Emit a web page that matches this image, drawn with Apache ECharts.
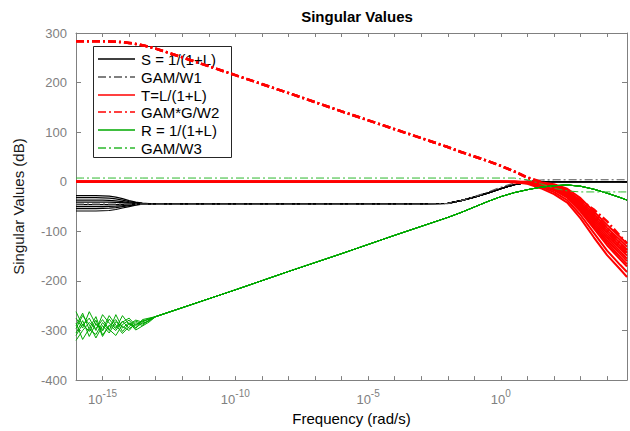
<!DOCTYPE html>
<html>
<head>
<meta charset="utf-8">
<title>Singular Values</title>
<script src="https://cdn.jsdelivr.net/npm/echarts@6/dist/echarts.min.js"></script>
<style>
  html, body { margin: 0; padding: 0; background: #fff; }
  #main { width: 630px; height: 431px; }
</style>
</head>
<body>
<div id="main"></div>
<script>
// frequency grid, as log10(rad/s)
const freqExp = [-16, -15.75, -15.5, -15.25, -15, -14.75, -14.5, -14.25, -14, -13.75, -13.5, -13.25,
  -13, -12, -10, -8, -6, -4, -3, -2, -1.5, -1, -0.5, 0, 0.5, 1, 1.5, 2, 2.5, 3, 3.5, 4, 4.5, 4.75];

const legendNames = ['S = 1/(1+L)', 'GAM/W1', 'T=L/(1+L)', 'GAM*G/W2', 'R = 1/(1+L)', 'GAM/W3'];

// S = 1/(1+L): low freq spread (-16 .. -13.25), then common curve (-13 .. 4.75)
const sLow = [
  [-28, -28, -28, -28, -28.5, -29, -31, -34, -38, -41, -43, -44],
  [-32, -32, -32, -32, -32.5, -33, -34.5, -37, -40, -42, -43.5, -44],
  [-37, -37, -37, -37, -37, -37.5, -38.5, -40, -42, -43, -44, -44],
  [-41, -41, -41, -41, -41, -41, -41.5, -42, -43, -43.5, -44, -44],
  [-46, -46, -46, -46, -46, -46, -46, -45.5, -45, -44.5, -44, -44],
  [-50, -50, -50, -50, -50, -49.5, -49, -48, -46.5, -45.5, -44.5, -44],
  [-54, -54, -54, -54, -53.5, -53, -52, -50, -48, -46, -45, -44],
  [-59, -59, -59, -59, -58.5, -58, -56, -53, -50, -47, -45, -44]
];
const sTail = [-44, -44, -44, -44, -44, -44, -44, -43.5, -38, -31, -23, -14, -6, -1.5, 0, 0, 0, 0, 0, 0, 0, 0];

// GAM/W1
const w1Gam = [-45, -45, -45, -45, -45, -45, -45, -45, -45, -45, -45, -45, -45, -45, -45, -45, -45, -45, -45,
  -44, -38, -30, -21, -11, -3, 2, 3.5, 4, 4, 4, 4, 4, 4, 4];

// T = L/(1+L): flat up to 10^-0.5, then spread roll-off (0 .. 4.75)
const tHead = [0, 0, 0, 0, 0, 0, 0, 0, 0, 0, 0, 0, 0, 0, 0, 0, 0, 0, 0, 0, 0, 0, 0];
const tTail = [
  [0, 0, 0, -1, -5, -14, -33, -60, -87, -112, -125],
  [0, 0, -0.5, -2, -7, -17, -38, -65, -93, -118, -131],
  [0, 0, -1, -3, -9, -20, -42, -70, -98, -124, -137],
  [0, 0, -1, -3.5, -10, -22, -45, -74, -103, -130, -143],
  [0, 0, -1, -4, -11, -24, -48, -78, -108, -135, -149],
  [0, 0, -1.5, -5, -12.5, -26, -51, -82, -113, -141, -155],
  [0, 0, -2, -6, -14, -28, -54, -86, -118, -146, -160],
  [0, -0.5, -2, -7, -15.5, -30, -57, -90, -123, -152, -166],
  [0, -1, -2, -8, -17, -32, -60, -94, -128, -157, -171],
  [0, -1, -3, -10, -21, -37, -67, -103, -139, -168, -182],
  [0, -1, -4, -13, -25, -42, -74, -112, -148, -177, -192]
];

// GAM*G/W2: common part (-16 .. 0.5), then spread (1 .. 4.75)
const w2Head = [283.5, 283.5, 283.5, 283.5, 283.5, 283, 282.5, 281.5, 280, 278, 275.5, 272,
  268.5, 251, 215, 179, 142, 106, 88, 70, 60, 51, 42, 32, 21];
const w2Tail = [
  [9, 0, -10, -22, -37, -56, -80, -110, -124],
  [8, -1, -12, -25, -42, -63, -93, -125, -138],
  [8, -2, -14, -28, -46, -69, -100, -132, -146]
];

// R = 1/(1+L): noisy low freq part (-16 .. -13.25), then common curve (-13 .. 4.75)
const rLow = [
  [-262, -290, -275, -300, -268, -285, -296, -270, -288, -279, -283, -276],
  [-305, -280, -312, -286, -301, -277, -294, -283, -275, -290, -280, -278],
  [-285, -318, -296, -272, -309, -291, -278, -302, -286, -294, -285, -281],
  [-296, -270, -288, -315, -290, -305, -282, -292, -300, -284, -290, -279],
  [-320, -300, -284, -296, -278, -298, -310, -288, -279, -296, -278, -275],
  [-275, -295, -262, -288, -298, -270, -289, -306, -292, -281, -287, -280],
  [-310, -287, -302, -279, -312, -289, -300, -281, -296, -288, -282, -277],
  [-290, -265, -298, -308, -284, -300, -268, -295, -284, -299, -291, -283]
];
const rTail = [-272, -254, -218, -181, -145, -108, -90, -72, -62, -51, -40, -30, -22, -16, -11, -8, -6.5, -9, -15, -23, -32, -37];

// GAM/W3
const w3Gam = [7.5, 7.5, 7.5, 7.5, 7.5, 7.5, 7.5, 7.5, 7.5, 7.5, 7.5, 7.5, 7.5, 7.5, 7.5, 7.5, 7.5, 7.5, 7.5,
  7.5, 7.5, 7.5, 7.5, 7.5, 7.5, 4, -4, -13, -18.5, -20.5, -20.5, -20.5, -20.5, -20.5];

const yTicks = { min: -400, max: 300, step: 100 };

const FONT = '"Liberation Sans", Arial, Helvetica, sans-serif';
const GREY = '#808080';
const dashDot = [8, 3, 2, 3];

const looks = {
  'S = 1/(1+L)': { color: '#000000', width: 1.2, type: 'solid' },
  'GAM/W1': { color: '#555555', width: 1.2, type: dashDot },
  'T=L/(1+L)': { color: '#ff0000', width: 2, type: 'solid' },
  'GAM*G/W2': { color: '#ff0000', width: 2.5, type: dashDot },
  'R = 1/(1+L)': { color: '#00a800', width: 1, type: 'solid' },
  'GAM/W3': { color: '#2db82d', width: 1, type: dashDot }
};

function pairs(ys) {
  return ys.map((y, i) => [freqExp[i], y]);
}

function line(name, ys) {
  const l = looks[name];
  return {
    name: name,
    type: 'line',
    data: pairs(ys),
    symbol: 'none',
    silent: true,
    lineStyle: { color: l.color, width: l.width, type: l.type },
    itemStyle: { color: l.color }
  };
}

const series = [];
sLow.forEach(low => series.push(line(legendNames[0], low.concat(sTail))));
series.push(line(legendNames[1], w1Gam));
tTail.forEach(t => series.push(line(legendNames[2], tHead.concat(t))));
w2Tail.forEach(t => series.push(line(legendNames[3], w2Head.concat(t))));
rLow.forEach(low => series.push(line(legendNames[4], low.concat(rTail))));
series.push(line(legendNames[5], w3Gam));

// legend box drawn by hand
const legendBox = { x: 93, y: 46, w: 138, h: 111, row: 17.8, first: 13 };
const legendChildren = [{
  type: 'rect',
  shape: { x: 0.5, y: 0.5, width: legendBox.w, height: legendBox.h },
  style: { fill: '#fff', stroke: '#262626', lineWidth: 1 }
}];
legendNames.forEach((n, i) => {
  const y = Math.round(legendBox.first + i * legendBox.row);
  const l = looks[n];
  legendChildren.push({
    type: 'line',
    shape: { x1: 5, y1: y, x2: 42, y2: y },
    style: { stroke: l.color, lineWidth: 1.6, lineDash: Array.isArray(l.type) ? l.type : null }
  });
  legendChildren.push({
    type: 'text',
    x: 48,
    y: y,
    style: { text: n, fill: '#000', fontSize: 15, fontFamily: FONT, verticalAlign: 'middle', align: 'left' }
  });
});

const xTickLabel = v => (Math.abs(v % 5) < 1e-9 ? '{b|10}{s|' + v + '}' : '');

const boxAxis = {
  axisLine: { show: true, onZero: false, lineStyle: { color: GREY, width: 1 } },
  splitLine: { show: false }
};

const chart = echarts.init(document.getElementById('main'), null, { renderer: 'svg' });
chart.setOption({
  animation: false,
  textStyle: { fontFamily: FONT },
  grid: { left: 76, right: 1, top: 33, bottom: 50, containLabel: false },
  title: {
    text: 'Singular Values',
    left: 352,
    top: 4,
    textAlign: 'center',
    textStyle: { fontFamily: FONT, fontSize: 15, fontWeight: 'bold', color: '#000' }
  },
  graphic: [{
    type: 'group',
    x: legendBox.x,
    y: legendBox.y,
    z: 100,
    silent: true,
    children: legendChildren
  }],
  xAxis: [Object.assign({
    type: 'value',
    min: freqExp[0],
    max: freqExp[freqExp.length - 1],
    interval: 1,
    position: 'bottom',
    name: 'Frequency (rad/s)',
    nameLocation: 'middle',
    nameGap: 25,
    nameTextStyle: { fontFamily: FONT, fontSize: 15, color: '#000' },
    axisTick: { inside: true, length: 4, lineStyle: { color: GREY } },
    axisLabel: {
      formatter: xTickLabel,
      margin: 8,
      rich: {
        b: { fontFamily: FONT, fontSize: 13, color: GREY, lineHeight: 18, verticalAlign: 'bottom' },
        s: { fontFamily: FONT, fontSize: 10, color: GREY, lineHeight: 10, verticalAlign: 'top' }
      }
    }
  }, boxAxis), Object.assign({
    type: 'value',
    min: freqExp[0],
    max: freqExp[freqExp.length - 1],
    interval: 1,
    position: 'top',
    axisTick: { inside: true, length: 4, lineStyle: { color: GREY } },
    axisLabel: { show: false }
  }, boxAxis)],
  yAxis: [Object.assign({
    type: 'value',
    min: yTicks.min,
    max: yTicks.max,
    interval: yTicks.step,
    position: 'left',
    name: 'Singular Values (dB)',
    nameLocation: 'middle',
    nameGap: 50,
    nameTextStyle: { fontFamily: FONT, fontSize: 15, color: '#1a1a1a' },
    axisTick: { show: true, inside: true, length: 5, lineStyle: { color: GREY } },
    axisLabel: { fontFamily: FONT, fontSize: 13, color: GREY, margin: 9 }
  }, boxAxis), Object.assign({
    type: 'value',
    min: yTicks.min,
    max: yTicks.max,
    interval: yTicks.step,
    position: 'right',
    axisTick: { show: true, inside: true, length: 5, lineStyle: { color: GREY } },
    axisLabel: { show: false }
  }, boxAxis)],
  series: series
});
</script>
</body>
</html>
